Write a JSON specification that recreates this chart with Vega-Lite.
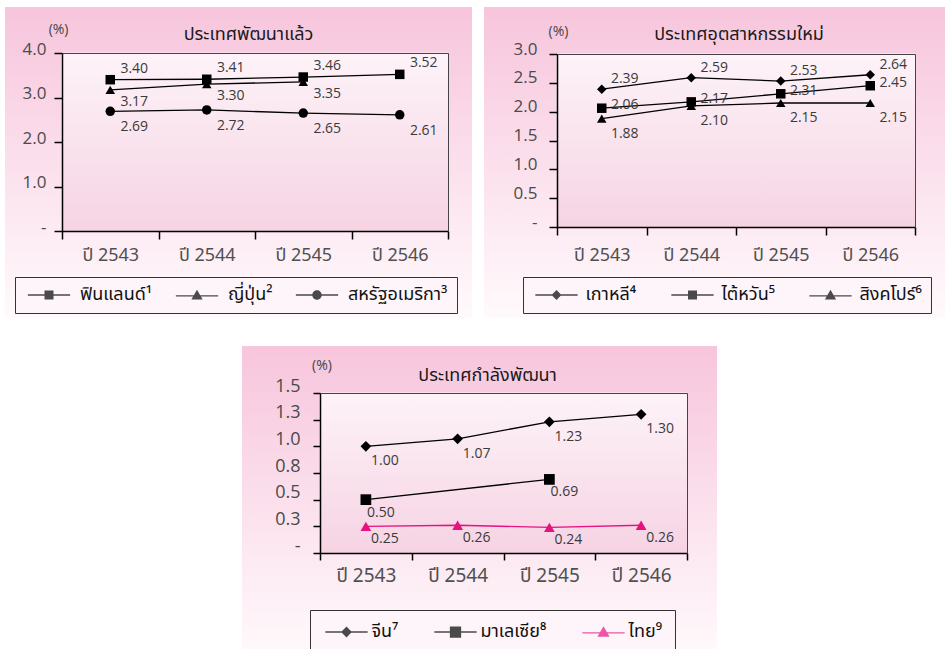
{
  "$schema": "https://vega.github.io/schema/vega-lite/v6.json",
  "padding": {"left": 5, "top": 7, "right": 0, "bottom": 0},
  "background": "white",
  "data": {"values": [
    {"panel": 1, "series": "ฟินแลนด์¹", "year": "ปี 2543", "value": 3.40},
    {"panel": 1, "series": "ฟินแลนด์¹", "year": "ปี 2544", "value": 3.41},
    {"panel": 1, "series": "ฟินแลนด์¹", "year": "ปี 2545", "value": 3.46},
    {"panel": 1, "series": "ฟินแลนด์¹", "year": "ปี 2546", "value": 3.52},
    {"panel": 1, "series": "ญี่ปุ่น²", "year": "ปี 2543", "value": 3.17},
    {"panel": 1, "series": "ญี่ปุ่น²", "year": "ปี 2544", "value": 3.30},
    {"panel": 1, "series": "ญี่ปุ่น²", "year": "ปี 2545", "value": 3.35},
    {"panel": 1, "series": "สหรัฐอเมริกา³", "year": "ปี 2543", "value": 2.69},
    {"panel": 1, "series": "สหรัฐอเมริกา³", "year": "ปี 2544", "value": 2.72},
    {"panel": 1, "series": "สหรัฐอเมริกา³", "year": "ปี 2545", "value": 2.65},
    {"panel": 1, "series": "สหรัฐอเมริกา³", "year": "ปี 2546", "value": 2.61},
    {"panel": 2, "series": "เกาหลี⁴", "year": "ปี 2543", "value": 2.39},
    {"panel": 2, "series": "เกาหลี⁴", "year": "ปี 2544", "value": 2.59},
    {"panel": 2, "series": "เกาหลี⁴", "year": "ปี 2545", "value": 2.53},
    {"panel": 2, "series": "เกาหลี⁴", "year": "ปี 2546", "value": 2.64},
    {"panel": 2, "series": "ไต้หวัน⁵", "year": "ปี 2543", "value": 2.06},
    {"panel": 2, "series": "ไต้หวัน⁵", "year": "ปี 2544", "value": 2.17},
    {"panel": 2, "series": "ไต้หวัน⁵", "year": "ปี 2545", "value": 2.31},
    {"panel": 2, "series": "ไต้หวัน⁵", "year": "ปี 2546", "value": 2.45},
    {"panel": 2, "series": "สิงคโปร์⁶", "year": "ปี 2543", "value": 1.88},
    {"panel": 2, "series": "สิงคโปร์⁶", "year": "ปี 2544", "value": 2.10},
    {"panel": 2, "series": "สิงคโปร์⁶", "year": "ปี 2545", "value": 2.15},
    {"panel": 2, "series": "สิงคโปร์⁶", "year": "ปี 2546", "value": 2.15},
    {"panel": 3, "series": "จีน⁷", "year": "ปี 2543", "value": 1.00},
    {"panel": 3, "series": "จีน⁷", "year": "ปี 2544", "value": 1.07},
    {"panel": 3, "series": "จีน⁷", "year": "ปี 2545", "value": 1.23},
    {"panel": 3, "series": "จีน⁷", "year": "ปี 2546", "value": 1.30},
    {"panel": 3, "series": "มาเลเซีย⁸", "year": "ปี 2543", "value": 0.50},
    {"panel": 3, "series": "มาเลเซีย⁸", "year": "ปี 2545", "value": 0.69},
    {"panel": 3, "series": "ไทย⁹", "year": "ปี 2543", "value": 0.25},
    {"panel": 3, "series": "ไทย⁹", "year": "ปี 2544", "value": 0.26},
    {"panel": 3, "series": "ไทย⁹", "year": "ปี 2545", "value": 0.24},
    {"panel": 3, "series": "ไทย⁹", "year": "ปี 2546", "value": 0.26}
  ]},
  "config": {
    "view": {"stroke": null, "fill": {"gradient": "linear", "x1": 0, "y1": 0, "x2": 0, "y2": 1, "stops": [{"offset": 0, "color": "#f7c5dc"}, {"offset": 1, "color": "#fffafc"}]}},
    "legend": {"labelFont": "Noto Sans Thai, Noto Sans, sans-serif", "labelFontSize": 18, "labelColor": "#111", "padding": 9, "fillColor": "#fdf5f9", "strokeColor": "#333", "labelLimit": 300, "symbolStrokeWidth": 0, "direction": "horizontal", "orient": "none"}
  },
  "spacing": 28,
  "center": true,
  "resolve": {"scale": {"shape": "independent", "color": "independent"}, "legend": {"shape": "independent", "color": "independent"}},
  "vconcat": [
    {
      "spacing": 12,
      "resolve": {"scale": {"shape": "independent", "color": "independent"}, "legend": {"shape": "independent", "color": "independent"}},
      "hconcat": [
        {
          "width": 467, "height": 311,
          "transform": [{"filter": "datum.panel == 1"}],
          "title": {"text": "ประเทศพัฒนาแล้ว", "frame": "group", "anchor": "middle", "baseline": "middle", "offset": -46, "dx": 10, "font": "Noto Sans Thai, Noto Sans, sans-serif", "fontSize": 18, "fontWeight": "normal", "color": "#1a1a1a"},
          "layer": [
            {
              "transform": [{"filter": "datum.series == 'ฟินแลนด์¹'"}],
              "mark": {"type": "rect", "strokeWidth": 1,
                "fill": {"gradient": "linear", "x1": 0, "y1": 0, "x2": 0, "y2": 1, "stops": [{"offset": 0, "color": "#fdf3f8"}, {"offset": 1, "color": "#f6d3e3"}]},
                "stroke": {"gradient": "linear", "x1": 0, "y1": 0, "x2": 0, "y2": 1, "stops": [{"offset": 0, "color": "#fdf3f8"}, {"offset": 1, "color": "#f6d3e3"}]}},
              "encoding": {
                "x": {"field": "year", "type": "nominal", "scale": {"type": "band", "domain": ["ปี 2543", "ปี 2544", "ปี 2545", "ปี 2546"], "range": [57, 443], "paddingInner": 0, "paddingOuter": 0},
                  "axis": {"orient": "bottom", "offset": -87, "zindex": 1, "tickBand": "extent", "domainColor": "black", "domainWidth": 1.5, "tickColor": "black", "tickWidth": 1.5, "tickSize": 8, "labelFont": "Noto Sans Thai, Noto Sans, sans-serif", "labelFontSize": 18, "labelColor": "#505050", "labelPadding": 16, "labelBaseline": "middle", "labelAngle": 0, "title": null, "grid": false}},
                "y": {"datum": 0, "type": "quantitative", "scale": {"domain": [0, 4], "range": [224, 46], "nice": false},
                  "axis": {"orient": "left", "offset": -57, "zindex": 1, "values": [0, 1, 2, 3, 4], "labelExpr": "datum.value == 0 ? '-' : format(datum.value, '.1f')", "domainColor": "black", "domainWidth": 1.5, "tickColor": "black", "tickWidth": 1.5, "tickSize": 8, "labelFont": "Open Sans", "labelFontSize": 17, "labelColor": "#4a4a4a", "labelPadding": 8, "labelOffset": -4, "grid": false,
                    "title": "(%)", "titleAngle": 0, "titleX": 6, "titleY": 22, "titleAlign": "right", "titleBaseline": "middle", "titleFont": "Open Sans", "titleFontSize": 14, "titleFontWeight": "normal", "titleColor": "#444"}},
                "y2": {"datum": 4}
              }
            },
            {
              "mark": {"type": "line", "color": "black", "strokeWidth": 1.3},
              "encoding": {
                "x": {"field": "year", "type": "nominal", "scale": {"type": "band"}, "axis": {"orient": "top", "offset": -46, "zindex": 1, "ticks": false, "labels": false, "domainColor": "#444", "domainWidth": 1, "title": null, "grid": false}},
                "y": {"field": "value", "type": "quantitative", "axis": {"orient": "right", "offset": -24, "zindex": 1, "ticks": false, "labels": false, "domainColor": "#444", "domainWidth": 1, "title": null, "grid": false}},
                "detail": {"field": "series"}
              }
            },
            {
              "mark": {"type": "point", "filled": true, "opacity": 1, "color": "black", "size": 90},
              "encoding": {
                "x": {"field": "year", "type": "nominal", "scale": {"type": "band"}, "axis": null},
                "y": {"field": "value", "type": "quantitative", "axis": null},
                "shape": {"field": "series", "type": "nominal", "scale": {"domain": ["ฟินแลนด์¹", "ญี่ปุ่น²", "สหรัฐอเมริกา³"], "range": ["square", "triangle-up", "circle"]}, "legend": null}
              }
            },
            {
              "transform": [{"filter": "false"}],
              "mark": {"type": "point", "filled": true, "color": "black", "strokeWidth": 0, "size": 81},
              "encoding": {
                "x": {"field": "year", "type": "nominal", "scale": {"type": "band"}, "axis": null},
                "y": {"field": "value", "type": "quantitative", "axis": null},
                "shape": {"field": "series", "type": "nominal", "scale": {"domain": ["ฟินแลนด์¹", "ญี่ปุ่น²", "สหรัฐอเมริกา³"], "range": ["M-4.7,-0.15H4.7V0.15H-4.7ZM-1,-1H1V1H-1Z", "M-4.7,0.05H4.7V0.35H-4.7ZM0,-1.15L1.25,1H-1.25Z", "M-4.7,-0.15H4.7V0.15H-4.7ZM-1.05,0A1.05,1.05,0,1,1,1.05,0A1.05,1.05,0,1,1,-1.05,0Z"]},
                  "legend": {"orient": "none", "legendX": 10, "legendY": 270, "direction": "horizontal", "title": null, "symbolSize": 81, "symbolOffset": 16, "labelOffset": 22, "columnPadding": 19}}
              }
            },
            {
              "transform": [{"filter": "datum.series == 'ฟินแลนด์¹'"}],
              "mark": {"type": "text", "dx": 24, "dy": -11, "font": "Open Sans", "fontSize": 14, "color": "#3a3a3a"},
              "encoding": {"x": {"field": "year", "type": "nominal", "scale": {"type": "band"}, "axis": null}, "y": {"field": "value", "type": "quantitative", "axis": null}, "text": {"field": "value", "format": ".2f"}}
            },
            {
              "transform": [{"filter": "datum.series == 'ญี่ปุ่น²'"}],
              "mark": {"type": "text", "dx": 24, "dy": 12, "font": "Open Sans", "fontSize": 14, "color": "#3a3a3a"},
              "encoding": {"x": {"field": "year", "type": "nominal", "scale": {"type": "band"}, "axis": null}, "y": {"field": "value", "type": "quantitative", "axis": null}, "text": {"field": "value", "format": ".2f"}}
            },
            {
              "transform": [{"filter": "datum.series == 'สหรัฐอเมริกา³'"}],
              "mark": {"type": "text", "dx": 24, "dy": 16, "font": "Open Sans", "fontSize": 14, "color": "#3a3a3a"},
              "encoding": {"x": {"field": "year", "type": "nominal", "scale": {"type": "band"}, "axis": null}, "y": {"field": "value", "type": "quantitative", "axis": null}, "text": {"field": "value", "format": ".2f"}}
            }
          ],
          "resolve": {"axis": {"x": "independent", "y": "independent"}, "scale": {"shape": "independent"}}
        },
        {
          "width": 470, "height": 311,
          "transform": [{"filter": "datum.panel == 2"}],
          "title": {"text": "ประเทศอุตสาหกรรมใหม่", "frame": "group", "anchor": "middle", "baseline": "middle", "offset": -46, "dx": 20, "font": "Noto Sans Thai, Noto Sans, sans-serif", "fontSize": 18, "fontWeight": "normal", "color": "#1a1a1a"},
          "layer": [
            {
              "transform": [{"filter": "datum.series == 'เกาหลี⁴'"}],
              "mark": {"type": "rect", "strokeWidth": 1,
                "fill": {"gradient": "linear", "x1": 0, "y1": 0, "x2": 0, "y2": 1, "stops": [{"offset": 0, "color": "#fdf3f8"}, {"offset": 1, "color": "#f6d3e3"}]},
                "stroke": {"gradient": "linear", "x1": 0, "y1": 0, "x2": 0, "y2": 1, "stops": [{"offset": 0, "color": "#fdf3f8"}, {"offset": 1, "color": "#f6d3e3"}]}},
              "encoding": {
                "x": {"field": "year", "type": "nominal", "scale": {"type": "band", "domain": ["ปี 2543", "ปี 2544", "ปี 2545", "ปี 2546"], "range": [73, 431], "paddingInner": 0, "paddingOuter": 0},
                  "axis": {"orient": "bottom", "offset": -91, "zindex": 1, "tickBand": "extent", "domainColor": "black", "domainWidth": 1.5, "tickColor": "black", "tickWidth": 1.5, "tickSize": 8, "labelFont": "Noto Sans Thai, Noto Sans, sans-serif", "labelFontSize": 18, "labelColor": "#505050", "labelPadding": 20, "labelBaseline": "middle", "labelAngle": 0, "title": null, "grid": false}},
                "y": {"datum": 0, "type": "quantitative", "scale": {"domain": [0, 3], "range": [220, 47], "nice": false},
                  "axis": {"orient": "left", "offset": -73, "zindex": 1, "values": [0, 0.5, 1, 1.5, 2, 2.5, 3], "labelExpr": "datum.value == 0 ? '-' : format(datum.value, '.1f')", "domainColor": "black", "domainWidth": 1.5, "tickColor": "black", "tickWidth": 1.5, "tickSize": 8, "labelFont": "Open Sans", "labelFontSize": 17, "labelColor": "#4a4a4a", "labelPadding": 12, "labelOffset": -5, "grid": false,
                    "title": "(%)", "titleAngle": 0, "titleX": 1, "titleY": 24, "titleAlign": "center", "titleBaseline": "middle", "titleFont": "Open Sans", "titleFontSize": 14, "titleFontWeight": "normal", "titleColor": "#444"}},
                "y2": {"datum": 3}
              }
            },
            {
              "mark": {"type": "line", "color": "black", "strokeWidth": 1.3},
              "encoding": {
                "x": {"field": "year", "type": "nominal", "scale": {"type": "band"}, "axis": {"orient": "top", "offset": -47, "zindex": 1, "ticks": false, "labels": false, "domainColor": "#444", "domainWidth": 1, "title": null, "grid": false}},
                "y": {"field": "value", "type": "quantitative", "axis": {"orient": "right", "offset": -39, "zindex": 1, "ticks": false, "labels": false, "domainColor": "#444", "domainWidth": 1, "title": null, "grid": false}},
                "detail": {"field": "series"}
              }
            },
            {
              "mark": {"type": "point", "filled": true, "opacity": 1, "color": "black", "size": 90},
              "encoding": {
                "x": {"field": "year", "type": "nominal", "scale": {"type": "band"}, "axis": null},
                "y": {"field": "value", "type": "quantitative", "axis": null},
                "shape": {"field": "series", "type": "nominal", "scale": {"domain": ["เกาหลี⁴", "ไต้หวัน⁵", "สิงคโปร์⁶"], "range": ["diamond", "square", "triangle-up"]}, "legend": null}
              }
            },
            {
              "transform": [{"filter": "false"}],
              "mark": {"type": "point", "filled": true, "color": "black", "strokeWidth": 0, "size": 81},
              "encoding": {
                "x": {"field": "year", "type": "nominal", "scale": {"type": "band"}, "axis": null},
                "y": {"field": "value", "type": "quantitative", "axis": null},
                "shape": {"field": "series", "type": "nominal", "scale": {"domain": ["เกาหลี⁴", "ไต้หวัน⁵", "สิงคโปร์⁶"], "range": ["M-4.7,-0.15H4.7V0.15H-4.7ZM0,-1.1L1.1,0L0,1.1L-1.1,0Z", "M-4.7,-0.15H4.7V0.15H-4.7ZM-1,-1H1V1H-1Z", "M-4.7,0.05H4.7V0.35H-4.7ZM0,-1.15L1.25,1H-1.25Z"]},
                  "legend": {"orient": "none", "legendX": 39, "legendY": 270, "direction": "horizontal", "title": null, "symbolSize": 81, "symbolOffset": 15.5, "labelOffset": 20, "columnPadding": 31}}
              }
            },
            {
              "transform": [{"filter": "datum.series == 'เกาหลี⁴'"}],
              "mark": {"type": "text", "dx": 23, "dy": -10, "font": "Open Sans", "fontSize": 14, "color": "#3a3a3a"},
              "encoding": {"x": {"field": "year", "type": "nominal", "scale": {"type": "band"}, "axis": null}, "y": {"field": "value", "type": "quantitative", "axis": null}, "text": {"field": "value", "format": ".2f"}}
            },
            {
              "transform": [{"filter": "datum.series == 'ไต้หวัน⁵'"}],
              "mark": {"type": "text", "dx": 23, "dy": -3, "font": "Open Sans", "fontSize": 14, "color": "#3a3a3a"},
              "encoding": {"x": {"field": "year", "type": "nominal", "scale": {"type": "band"}, "axis": null}, "y": {"field": "value", "type": "quantitative", "axis": null}, "text": {"field": "value", "format": ".2f"}}
            },
            {
              "transform": [{"filter": "datum.series == 'สิงคโปร์⁶'"}],
              "mark": {"type": "text", "dx": 23, "dy": 15, "font": "Open Sans", "fontSize": 14, "color": "#3a3a3a"},
              "encoding": {"x": {"field": "year", "type": "nominal", "scale": {"type": "band"}, "axis": null}, "y": {"field": "value", "type": "quantitative", "axis": null}, "text": {"field": "value", "format": ".2f"}}
            }
          ],
          "resolve": {"axis": {"x": "independent", "y": "independent"}, "scale": {"shape": "independent"}}
        }
      ]
    },
    {
      "width": 475, "height": 310,
      "transform": [{"filter": "datum.panel == 3"}],
      "title": {"text": "ประเทศกำลังพัฒนา", "frame": "group", "anchor": "middle", "baseline": "middle", "offset": -48, "dx": 8, "font": "Noto Sans Thai, Noto Sans, sans-serif", "fontSize": 18, "fontWeight": "normal", "color": "#1a1a1a"},
      "layer": [
        {
          "transform": [{"filter": "datum.series == 'จีน⁷'"}],
          "mark": {"type": "rect", "strokeWidth": 1,
            "fill": {"gradient": "linear", "x1": 0, "y1": 0, "x2": 0, "y2": 1, "stops": [{"offset": 0, "color": "#fdf3f8"}, {"offset": 1, "color": "#f6d3e3"}]},
            "stroke": {"gradient": "linear", "x1": 0, "y1": 0, "x2": 0, "y2": 1, "stops": [{"offset": 0, "color": "#fdf3f8"}, {"offset": 1, "color": "#f6d3e3"}]}},
          "encoding": {
            "x": {"field": "year", "type": "nominal", "scale": {"type": "band", "domain": ["ปี 2543", "ปี 2544", "ปี 2545", "ปี 2546"], "range": [78, 445], "paddingInner": 0, "paddingOuter": 0},
              "axis": {"orient": "bottom", "offset": -103, "zindex": 1, "tickBand": "extent", "domainColor": "black", "domainWidth": 1.5, "tickColor": "black", "tickWidth": 1.5, "tickSize": 7, "labelFont": "Noto Sans Thai, Noto Sans, sans-serif", "labelFontSize": 19, "labelColor": "#505050", "labelPadding": 15, "labelBaseline": "middle", "labelAngle": 0, "title": null, "grid": false}},
            "y": {"datum": 0, "type": "quantitative", "scale": {"domain": [0, 1.5], "range": [207, 47], "nice": false},
              "axis": {"orient": "left", "offset": -78, "zindex": 1, "values": [0, 0.25, 0.5, 0.75, 1, 1.25, 1.5], "labelExpr": "datum.value == 0 ? '-' : format(datum.value, '.1f')", "domainColor": "black", "domainWidth": 1.5, "tickColor": "black", "tickWidth": 1.5, "tickSize": 7, "labelFont": "Open Sans", "labelFontSize": 18, "labelColor": "#4a4a4a", "labelPadding": 13, "labelOffset": -7, "grid": false,
                "title": "(%)", "titleAngle": 0, "titleX": 1.5, "titleY": 19.5, "titleAlign": "center", "titleBaseline": "middle", "titleFont": "Open Sans", "titleFontSize": 14, "titleFontWeight": "normal", "titleColor": "#444"}},
            "y2": {"datum": 1.5}
          }
        },
        {
          "mark": {"type": "line", "strokeWidth": 1.3},
          "encoding": {
            "x": {"field": "year", "type": "nominal", "scale": {"type": "band"}, "axis": {"orient": "top", "offset": -47, "zindex": 1, "ticks": false, "labels": false, "domainColor": "#444", "domainWidth": 1, "title": null, "grid": false}},
            "y": {"field": "value", "type": "quantitative", "axis": {"orient": "right", "offset": -30, "zindex": 1, "ticks": false, "labels": false, "domainColor": "#444", "domainWidth": 1, "title": null, "grid": false}},
            "detail": {"field": "series"},
            "color": {"condition": {"test": "datum.series == 'ไทย⁹'", "value": "#e6127f"}, "value": "black"}
          }
        },
        {
          "mark": {"type": "point", "filled": true, "opacity": 1, "size": 115},
          "encoding": {
            "x": {"field": "year", "type": "nominal", "scale": {"type": "band"}, "axis": null},
            "y": {"field": "value", "type": "quantitative", "axis": null},
            "fill": {"field": "series", "type": "nominal", "scale": {"domain": ["จีน⁷", "มาเลเซีย⁸", "ไทย⁹"], "range": ["black", "black", "#e6127f"]}, "legend": null},
            "shape": {"field": "series", "type": "nominal", "scale": {"domain": ["จีน⁷", "มาเลเซีย⁸", "ไทย⁹"], "range": ["diamond", "square", "triangle-up"]}, "legend": null}
          }
        },
        {
          "transform": [{"filter": "false"}],
          "mark": {"type": "point", "filled": true, "strokeWidth": 0, "size": 81},
          "encoding": {
            "x": {"field": "year", "type": "nominal", "scale": {"type": "band"}, "axis": null},
            "y": {"field": "value", "type": "quantitative", "axis": null},
            "color": {"field": "series", "type": "nominal", "scale": {"domain": ["จีน⁷", "มาเลเซีย⁸", "ไทย⁹"], "range": ["black", "black", "#e6127f"]},
              "legend": {"orient": "none", "legendX": 68, "legendY": 264, "direction": "horizontal", "title": null, "symbolSize": 81, "symbolOffset": 14.5, "labelOffset": 16, "columnPadding": 33, "padding": 13}},
            "shape": {"field": "series", "type": "nominal", "scale": {"domain": ["จีน⁷", "มาเลเซีย⁸", "ไทย⁹"], "range": ["M-4.7,-0.15H4.7V0.15H-4.7ZM0,-1.2L1.2,0L0,1.2L-1.2,0Z", "M-4.7,-0.15H4.7V0.15H-4.7ZM-1.25,-1.25H1.25V1.25H-1.25Z", "M-4.7,0.05H4.7V0.35H-4.7ZM0,-1.3L1.35,1.05H-1.35Z"]},
              "legend": {"orient": "none", "legendX": 68, "legendY": 264, "direction": "horizontal", "title": null, "symbolSize": 81, "symbolOffset": 14.5, "labelOffset": 16, "columnPadding": 33, "padding": 13}}
          }
        },
        {
          "transform": [{"filter": "datum.series == 'จีน⁷'"}],
          "mark": {"type": "text", "dx": 19, "dy": 15, "font": "Open Sans", "fontSize": 14, "color": "#3a3a3a"},
          "encoding": {"x": {"field": "year", "type": "nominal", "scale": {"type": "band"}, "axis": null}, "y": {"field": "value", "type": "quantitative", "axis": null}, "text": {"field": "value", "format": ".2f"}}
        },
        {
          "transform": [{"filter": "datum.series == 'มาเลเซีย⁸'"}],
          "mark": {"type": "text", "dx": 15, "dy": 13, "font": "Open Sans", "fontSize": 14, "color": "#3a3a3a"},
          "encoding": {"x": {"field": "year", "type": "nominal", "scale": {"type": "band"}, "axis": null}, "y": {"field": "value", "type": "quantitative", "axis": null}, "text": {"field": "value", "format": ".2f"}}
        },
        {
          "transform": [{"filter": "datum.series == 'ไทย⁹'"}],
          "mark": {"type": "text", "dx": 19, "dy": 13, "font": "Open Sans", "fontSize": 14, "color": "#3a3a3a"},
          "encoding": {"x": {"field": "year", "type": "nominal", "scale": {"type": "band"}, "axis": null}, "y": {"field": "value", "type": "quantitative", "axis": null}, "text": {"field": "value", "format": ".2f"}}
        }
      ],
      "resolve": {"axis": {"x": "independent", "y": "independent"}, "scale": {"shape": "independent", "fill": "independent", "color": "independent"}}
    }
  ]
}
